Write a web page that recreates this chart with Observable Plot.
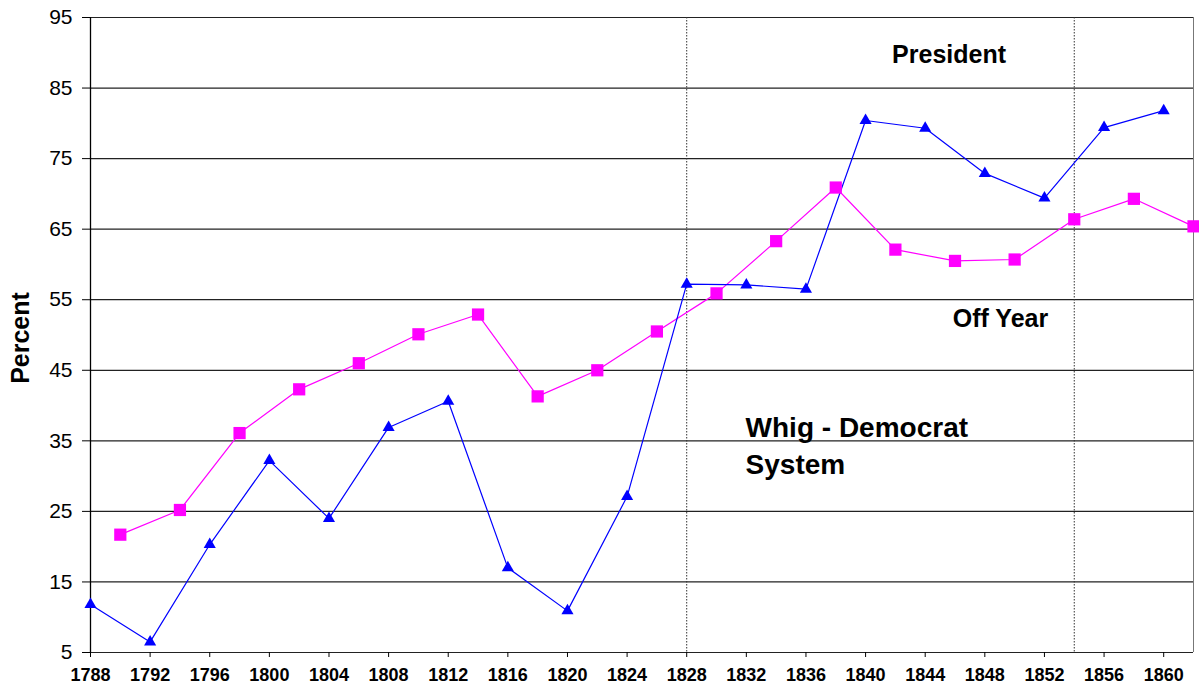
<!DOCTYPE html>
<html>
<head>
<meta charset="utf-8">
<script src="https://cdn.jsdelivr.net/npm/d3@7"></script>
<script src="https://cdn.jsdelivr.net/npm/@observablehq/plot@0.6"></script>
<style>
  html, body { margin: 0; padding: 0; background: #fff; }
  #chart svg { display: block; }
  g[aria-label="y-axis tick label"] text { font: 21px "Liberation Sans", Arial, sans-serif; fill: #000; }
  g[aria-label="x-axis tick label"] text { font: bold 18px "Liberation Sans Narrow", "Arial Narrow", "Liberation Sans", Arial, sans-serif; fill: #000; }
</style>
</head>
<body>
<div id="chart"></div>
<script>
// Presidential election years and turnout (percent)
const presYears  = [1788, 1792, 1796, 1800, 1804, 1808, 1812, 1816, 1820, 1824, 1828, 1832, 1836, 1840, 1844, 1848, 1852, 1856, 1860];
const presValues = [11.8, 6.5, 20.3, 32.2, 24.0, 36.9, 40.6, 17.0, 10.9, 27.1, 57.2, 57.1, 56.5, 80.4, 79.3, 72.9, 69.4, 79.4, 81.8];

// Off-year (midterm) election years and turnout (percent)
const offYears  = [1790, 1794, 1798, 1802, 1806, 1810, 1814, 1818, 1822, 1826, 1830, 1834, 1838, 1842, 1846, 1850, 1854, 1858, 1862];
const offValues = [21.7, 25.2, 36.1, 42.3, 46.0, 50.1, 52.9, 41.3, 45.0, 50.5, 55.9, 63.3, 70.9, 62.1, 60.5, 60.7, 66.4, 69.3, 65.4];

// Axis tick values
const xTicks = [1788, 1792, 1796, 1800, 1804, 1808, 1812, 1816, 1820, 1824, 1828, 1832, 1836, 1840, 1844, 1848, 1852, 1856, 1860];
const yTicks = [5, 15, 25, 35, 45, 55, 65, 75, 85, 95];
const xDomain = [1788, 1862];
const yDomain = [5, 95];
const yLabel = "Percent";

// Party-system boundaries (dotted verticals)
const eraBounds = [1828, 1854];

// Annotations
const annoText  = ["President", "Off Year", "Whig - Democrat", "System"];
const annoYear  = [1845.6, 1849.05, 1831.95, 1831.95];
const annoValue = [89.75, 52.2, 36.75, 31.5];

const pres = presYears.map((y, i) => ({year: y, value: presValues[i]}));
const off  = offYears.map((y, i) => ({year: y, value: offValues[i]}));
const annos = annoText.map((t, i) => ({text: t, year: annoYear[i], value: annoValue[i]}));

const chart = Plot.plot({
  width: 1199,
  height: 692,
  marginLeft: 90,
  marginRight: 6,
  marginTop: 17,
  marginBottom: 40,
  style: {background: "#fff", fontFamily: "'Liberation Sans', Arial, sans-serif", color: "#000"},
  x: {domain: xDomain, axis: null},
  y: {domain: yDomain, axis: null},
  marks: [
    Plot.ruleY(yTicks, {stroke: "#222", strokeWidth: 1.2}),
    Plot.ruleX(eraBounds, {stroke: "#333", strokeWidth: 1, strokeDasharray: "1.5,1.5"}),
    Plot.ruleX([xDomain[0]], {stroke: "#000", strokeWidth: 1.3}),
    Plot.ruleX([xDomain[1]], {stroke: "#777", strokeWidth: 1}),
    Plot.axisY(yTicks, {tickSize: 8, tickPadding: 10, label: null, tickFormat: d => String(d)}),
    Plot.axisX(xTicks, {tickSize: 5, tickPadding: 11, label: null, tickFormat: d => String(d)}),
    Plot.text([yLabel], {frameAnchor: "left", dx: -70, dy: 3, rotate: -90, textAnchor: "middle", lineAnchor: "middle", fontSize: 25, fontWeight: "bold", fill: "#000"}),
    Plot.line(off, {x: "year", y: "value", stroke: "#ff00ff", strokeWidth: 1.2}),
    Plot.line(pres, {x: "year", y: "value", stroke: "#0000ff", strokeWidth: 1.2}),
    Plot.dot(off, {x: "year", y: "value", symbol: "square", r: 6.9, fill: "#ff00ff", stroke: "none"}),
    Plot.dot(pres, {x: "year", y: "value", symbol: "triangle", r: 4.5, fill: "#0000ff", stroke: "none"}),
    Plot.text(annos.slice(0, 2), {x: "year", y: "value", text: "text", textAnchor: "middle", lineAnchor: "middle", fontSize: 25, fontWeight: "bold", fill: "#000"}),
    Plot.text(annos.slice(2), {x: "year", y: "value", text: "text", textAnchor: "start", lineAnchor: "middle", fontSize: 28, fontWeight: "bold", fill: "#000"})
  ]
});
document.getElementById("chart").appendChild(chart);
</script>
</body>
</html>
